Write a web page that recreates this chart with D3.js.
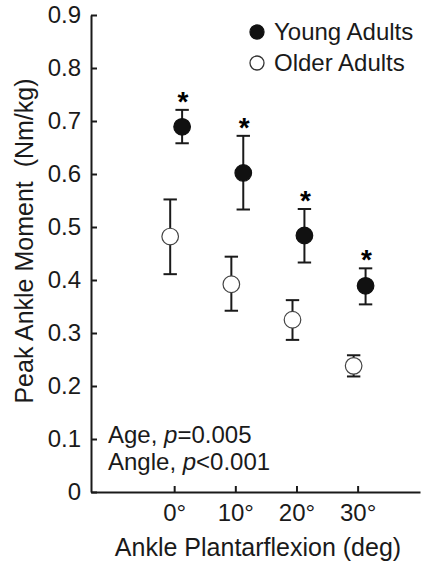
<!DOCTYPE html>
<html><head><meta charset="utf-8">
<script src="https://cdn.jsdelivr.net/npm/d3@7"></script>
<style>
html,body{margin:0;padding:0;background:#fff;}
svg{display:block;font-family:"Liberation Sans",Arial,Helvetica,sans-serif;}
</style></head>
<body>
<svg id="chart" width="422" height="565"></svg>
<script>
const angles = [0, 10, 20, 30];
const xTickLabels = ["0°", "10°", "20°", "30°"];
const yTicks = [0, 0.1, 0.2, 0.3, 0.4, 0.5, 0.6, 0.7, 0.8, 0.9];
const youngMean = [0.689, 0.602, 0.484, 0.389];
const youngUpper = [0.721, 0.672, 0.534, 0.422];
const youngLower = [0.658, 0.533, 0.433, 0.354];
const olderMean = [0.482, 0.392, 0.325, 0.238];
const olderUpper = [0.552, 0.444, 0.362, 0.258];
const olderLower = [0.411, 0.342, 0.287, 0.218];
const significant = [true, true, true, true];
const seriesNames = ["Young Adults", "Older Adults"];

const svg = d3.select("#chart");
const x = d3.scaleLinear().domain([-13.6, 40.2]).range([91, 420]);
const y = d3.scaleLinear().domain([0, 0.9]).range([492, 15]);
const ink = "#1a1a1a";

// axes
const yAxis = d3.axisLeft(y).tickValues(yTicks).tickSize(-6).tickSizeOuter(0).tickPadding(10)
  .tickFormat(d => d === 0 ? "0" : d3.format(".1f")(d));
const gy = svg.append("g").attr("transform", `translate(${x.range()[0]},0)`).call(yAxis);
const xAxis = d3.axisBottom(x).tickValues(angles).tickSize(-6).tickSizeOuter(0).tickPadding(12)
  .tickFormat((d, i) => xTickLabels[i]);
const gx = svg.append("g").attr("transform", `translate(0,${y(0)})`).call(xAxis);
[gx, gy].forEach(g => {
  g.select(".domain").attr("stroke", ink).attr("stroke-width", 2);
  g.selectAll(".tick line").attr("stroke", ink).attr("stroke-width", 2);
  g.selectAll(".tick text").attr("fill", ink).style("font-size", "24px")
    .style("font-family", '"Liberation Sans",Arial,sans-serif');
});

// axis titles
svg.append("text").attr("x", 258).attr("y", 556).attr("text-anchor", "middle")
  .attr("fill", ink).style("font-size", "25px").text("Ankle Plantarflexion (deg)");
svg.append("text").attr("transform", "translate(33,241) rotate(-90)").attr("text-anchor", "middle")
  .attr("fill", ink).style("font-size", "25px").style("white-space", "pre")
  .attr("xml:space", "preserve").text("Peak Ankle Moment  (Nm/kg)");

// series
const series = [
  {mean: youngMean, up: youngUpper, lo: youngLower, off: 1.3, fill: "#111", stroke: "#111"},
  {mean: olderMean, up: olderUpper, lo: olderLower, off: -0.65, fill: "#fff", stroke: "#444"}
];
const cap = 6.7, r = 8.3;
series.forEach(s => {
  const g = svg.append("g");
  const data = angles.map((a, i) => ({a, m: s.mean[i], u: s.up[i], l: s.lo[i]}));
  g.selectAll("line.eb").data(data).join("line")
    .attr("x1", d => x(d.a + s.off)).attr("x2", d => x(d.a + s.off))
    .attr("y1", d => y(d.u)).attr("y2", d => y(d.l)).attr("stroke", ink).attr("stroke-width", 2);
  g.selectAll("line.cu").data(data).join("line")
    .attr("x1", d => x(d.a + s.off) - cap).attr("x2", d => x(d.a + s.off) + cap)
    .attr("y1", d => y(d.u)).attr("y2", d => y(d.u)).attr("stroke", ink).attr("stroke-width", 2);
  g.selectAll("line.cl").data(data).join("line")
    .attr("x1", d => x(d.a + s.off) - cap).attr("x2", d => x(d.a + s.off) + cap)
    .attr("y1", d => y(d.l)).attr("y2", d => y(d.l)).attr("stroke", ink).attr("stroke-width", 2);
  g.selectAll("circle").data(data).join("circle")
    .attr("cx", d => x(d.a + s.off)).attr("cy", d => y(d.m)).attr("r", r)
    .attr("fill", s.fill).attr("stroke", s.stroke).attr("stroke-width", 1.2);
});

// significance asterisks
svg.append("g").selectAll("text").data(angles.filter((a, i) => significant[i]).map((a) => ({a, u: youngUpper[angles.indexOf(a)]})))
  .join("text").attr("x", d => x(d.a + 1.45)).attr("y", d => y(d.u) + 1)
  .attr("text-anchor", "middle").attr("fill", "#000").style("font-size", "28px").style("font-weight", "bold")
  .text("*");

// legend
const leg = svg.append("g");
[{c: "#111", s: "#111"}, {c: "#fff", s: "#333"}].forEach((m, i) => {
  leg.append("circle").attr("cx", 257).attr("cy", 32 + i * 31).attr("r", 7)
    .attr("fill", m.c).attr("stroke", m.s).attr("stroke-width", 1.3);
  leg.append("text").attr("x", 274).attr("y", 40 + i * 31).attr("fill", ink)
    .style("font-size", "24px").text(seriesNames[i]);
});

// annotation
const ann = svg.append("text").attr("fill", ink).style("font-size", "24px");
const l1 = ann.append("tspan").attr("x", 108).attr("y", 443);
l1.append("tspan").text("Age, ");
l1.append("tspan").style("font-style", "italic").text("p");
l1.append("tspan").text("=0.005");
const l2 = svg.append("text").attr("fill", ink).style("font-size", "24px").attr("x", 108).attr("y", 470);
l2.append("tspan").text("Angle, ");
l2.append("tspan").style("font-style", "italic").text("p");
l2.append("tspan").text("<0.001");
</script>
</body></html>
